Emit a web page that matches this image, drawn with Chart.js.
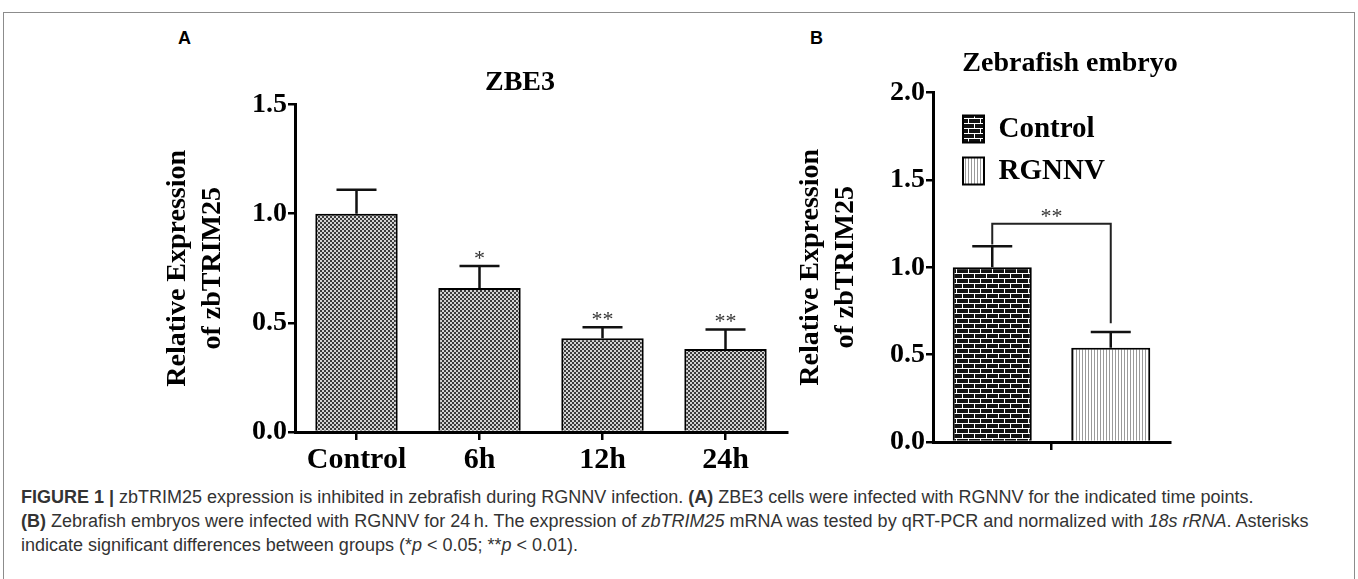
<!DOCTYPE html>
<html>
<head>
<meta charset="utf-8">
<script src="https://cdn.jsdelivr.net/npm/chart.js@4.4.1/dist/chart.umd.min.js"></script>
<style>
  body { margin: 0; background: #fff; overflow: hidden; width: 1358px; height: 579px; position: relative; }
  #frame { position: absolute; left: 3px; top: 12px; width: 1350px; height: 620px; border: 1px solid #8c8c8c; }
  .panel { position: absolute; font: bold 18px "Liberation Sans", Arial, sans-serif; color: #000; }
  #chartA { position: absolute; left: 140px; top: 46px; width: 760px; height: 434px; }
  #chartB { position: absolute; left: 770px; top: 24px; width: 600px; height: 456px; }
  #caption { position: absolute; left: 21px; top: 485px; font: 18px/24px "Liberation Sans", Arial, sans-serif; color: #333; white-space: nowrap; }
</style>
</head>
<body>
<div id="frame"></div>
<div class="panel" style="left:178px; top:28px;">A</div>
<div class="panel" style="left:810px; top:28px;">B</div>
<canvas id="chartA" width="760" height="434"></canvas>
<canvas id="chartB" width="600" height="456"></canvas>
<div id="caption">
  <b>FIGURE 1 |</b> zbTRIM25 expression is inhibited in zebrafish during RGNNV infection. <b>(A)</b> ZBE3 cells were infected with RGNNV for the indicated time points.<br>
  <b>(B)</b> Zebrafish embryos were infected with RGNNV for 24&#8201;h. The expression of <i>zbTRIM25</i> mRNA was tested by qRT-PCR and normalized with <i>18s rRNA</i>. Asterisks<br>
  indicate significant differences between groups (*<i>p</i> &lt; 0.05; **<i>p</i> &lt; 0.01).
</div>
<script>
const serif = '"Liberation Serif", "Times New Roman", serif';

// panel A: ZBE3 cells
const catsA = ['Control', '6h', '12h', '24h'];
const meanA = [1.0, 0.66, 0.43, 0.38];
const errA = [0.11, 0.10, 0.05, 0.09];
const starsA = ['', '*', '**', '**'];
const ticksA = [0, 0.5, 1.0, 1.5];

// panel B: zebrafish embryo
const groupsB = ['Control', 'RGNNV'];
const meanB = [1.0, 0.54];
const errB = [0.12, 0.09];
const ticksB = [0, 0.5, 1.0, 1.5, 2.0];
const bracketB = [1.13, 1.25, 0.68]; // left foot, top, right foot
const starsB = '**';

const yTitle = ['Relative Expression', 'of zbTRIM25'];

function makePattern(w, h, draw) {
  const c = document.createElement('canvas');
  c.width = w; c.height = h;
  const g = c.getContext('2d');
  draw(g);
  return g.createPattern(c, 'repeat');
}

const checker = makePattern(4, 4, g => {
  g.fillStyle = '#d4d4d4'; g.fillRect(0, 0, 4, 4);
  g.fillStyle = '#3c3c3c'; g.fillRect(0, 0, 2, 2); g.fillRect(2, 2, 2, 2);
});
const brick = makePattern(12, 10, g => {
  g.fillStyle = '#111'; g.fillRect(0, 0, 12, 10);
  g.fillStyle = '#fff';
  g.fillRect(0, 4, 12, 1); g.fillRect(0, 9, 12, 1);
  g.fillRect(0, 0, 1, 4); g.fillRect(6, 5, 1, 4);
});
const stripes = makePattern(3, 1, g => {
  g.fillStyle = '#fff'; g.fillRect(0, 0, 3, 1);
  g.fillStyle = '#9a9a9a'; g.fillRect(0, 0, 1, 1);
});

const errorBars = {
  id: 'errorBars',
  afterDatasetsDraw(chart) {
    const ctx = chart.ctx, y = chart.scales.y;
    ctx.save();
    ctx.strokeStyle = '#111';
    ctx.lineWidth = 2.5;
    chart.data.datasets.forEach((ds, i) => {
      chart.getDatasetMeta(i).data.forEach((bar, j) => {
        const top = y.getPixelForValue(ds.data[j] + ds.errors[j]);
        ctx.beginPath();
        ctx.moveTo(bar.x, bar.y); ctx.lineTo(bar.x, top);
        ctx.moveTo(bar.x - 20, top); ctx.lineTo(bar.x + 20, top);
        ctx.stroke();
        const s = ds.stars && ds.stars[j];
        if (s) {
          ctx.fillStyle = '#333';
          ctx.font = '22px ' + serif;
          ctx.textAlign = 'center';
          ctx.fillText(s, bar.x, top - 1);
        }
      });
    });
    ctx.restore();
  }
};

const bracket = {
  id: 'bracket',
  afterDatasetsDraw(chart) {
    const ctx = chart.ctx, y = chart.scales.y;
    const a = chart.getDatasetMeta(0).data[0], b = chart.getDatasetMeta(1).data[0];
    const top = y.getPixelForValue(bracketB[1]);
    ctx.save();
    ctx.strokeStyle = '#222';
    ctx.lineWidth = 2;
    ctx.beginPath();
    ctx.moveTo(a.x, y.getPixelForValue(bracketB[0]));
    ctx.lineTo(a.x, top);
    ctx.lineTo(b.x, top);
    ctx.lineTo(b.x, y.getPixelForValue(bracketB[2]));
    ctx.stroke();
    ctx.fillStyle = '#333';
    ctx.font = '22px ' + serif;
    ctx.textAlign = 'center';
    ctx.fillText(starsB, (a.x + b.x) / 2, top - 1);
    ctx.restore();
  }
};

const legendShift = {
  id: 'legendShift',
  afterLayout(chart) {
    const l = chart.legend, ca = chart.chartArea;
    l.left = ca.left + 17;
    l.top = ca.top + 9;
  }
};

function yScale(ticks, width, titlePad) {
  return {
    min: ticks[0],
    max: ticks[ticks.length - 1],
    afterBuildTicks: s => { s.ticks = ticks.map(v => ({ value: v })); },
    afterFit: s => { s.width = width; },
    ticks: { color: '#000', padding: 1, font: { family: serif, weight: 'bold', size: 28 }, callback: v => v.toFixed(1) },
    grid: { drawOnChartArea: false, tickLength: 7, color: '#000', lineWidth: 2.5 },
    border: { color: '#000', width: 3 },
    title: { display: true, text: yTitle, color: '#000', padding: { top: titlePad, bottom: 0 },
             font: { family: serif, weight: 'bold', size: 28, lineHeight: 1.25 } }
  };
}

// empty right-hand axis: keeps the title centred over the whole canvas
function spacer(width) {
  return {
    type: 'linear', position: 'right', display: true,
    afterFit: s => { s.width = width; },
    ticks: { display: false }, grid: { display: false }, border: { display: false }
  };
}

Chart.defaults.font.family = serif;

new Chart(document.getElementById('chartA'), {
  type: 'bar',
  data: {
    labels: catsA,
    datasets: [{
      data: meanA, errors: errA, stars: starsA,
      backgroundColor: checker, borderColor: '#000', borderWidth: 2,
      categoryPercentage: 1, barPercentage: 0.67
    }]
  },
  options: {
    responsive: false,
    animation: false,
    events: [],
    plugins: {
      legend: { display: false },
      tooltip: { enabled: false },
      title: { display: true, text: 'ZBE3', color: '#000', padding: { top: 20, bottom: 5 },
               font: { family: serif, weight: 'bold', size: 28, lineHeight: 1.2 } }
    },
    scales: {
      x: {
        afterFit: s => { s.height = 48; },
        ticks: { color: '#000', padding: 2, font: { family: serif, weight: 'bold', size: 30 } },
        grid: { drawOnChartArea: false, offset: false, tickLength: 8, color: '#000', lineWidth: 2.5 },
        border: { color: '#000', width: 3 }
      },
      y: yScale(ticksA, 155, 20),
      pad: spacer(113)
    }
  },
  plugins: [errorBars]
});

new Chart(document.getElementById('chartB'), {
  type: 'bar',
  data: {
    labels: [''],
    datasets: groupsB.map((g, i) => ({
      label: g, data: [meanB[i]], errors: [errB[i]],
      backgroundColor: i === 0 ? brick : stripes, borderColor: '#000', borderWidth: 2,
      categoryPercentage: 1, barPercentage: 0.667
    }))
  },
  options: {
    responsive: false,
    animation: false,
    events: [],
    plugins: {
      legend: {
        position: 'chartArea', align: 'start',
        labels: { color: '#000', boxWidth: 21, boxHeight: 27, padding: 13,
                  font: { family: serif, weight: 'bold', size: 29 } }
      },
      tooltip: { enabled: false },
      title: { display: true, text: 'Zebrafish embryo', color: '#000', padding: { top: 23, bottom: 12 },
               font: { family: serif, weight: 'bold', size: 28, lineHeight: 1.2 } }
    },
    scales: {
      x: {
        afterFit: s => { s.height = 38; },
        ticks: { display: true, font: { size: 10 } },
        grid: { drawOnChartArea: false, offset: false, tickLength: 8, color: '#000', lineWidth: 2.5 },
        border: { color: '#000', width: 3 }
      },
      y: yScale(ticksB, 163, 23.5),
      pad: spacer(200)
    }
  },
  plugins: [errorBars, bracket, legendShift]
});
</script>
</body>
</html>
